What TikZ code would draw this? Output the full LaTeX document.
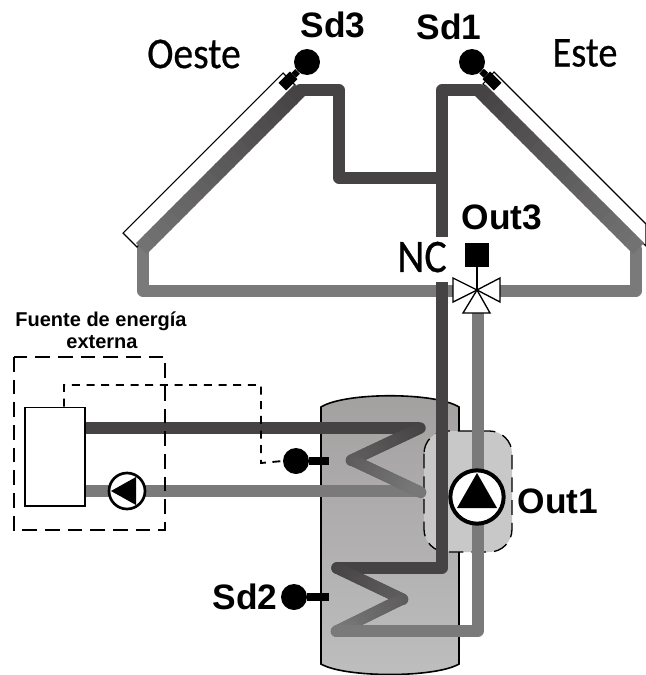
\documentclass[tikz,border=0pt]{standalone}
\usepackage{fontspec}
\setmainfont{Liberation Sans}
\newfontfamily\titlefont[FakeStretch=0.9,FakeBold=0.5]{Carlito}
\usetikzlibrary{calc}
\definecolor{pipedark}{RGB}{70,67,68}
\definecolor{pipelight}{RGB}{122,122,122}
\definecolor{tanktop}{RGB}{163,160,160}
\definecolor{tankbot}{RGB}{190,190,190}
\definecolor{pumpbox}{RGB}{200,200,200}
\newcommand{\gradpipe}[5]{
  \foreach \t in {0,5,...,95} {
    \pgfmathtruncatemacro{\p}{#4+(#5-#4)*\t/95}
    \pgfmathsetmacro{\q}{(\t+6)/100}
    \pgfmathsetmacro{\r}{\t/100}
    \draw[#1,pipedark!\p!pipelight] ($#2!\r!#3$) -- ($#2!\q!#3$);}}
\begin{document}
\begin{tikzpicture}[x=0.75pt,y=-0.75pt,
    pipe/.style={line width=8.6pt,line join=round,line cap=round},
    band/.style={line width=11.5pt},
    sensor/.style={circle,fill=black,inner sep=0pt,minimum size=19.5pt},
    sensortip/.style={rectangle,fill=black,inner sep=0pt,minimum width=12pt,minimum height=8pt},
    pump/.style={circle,draw=black,fill=white,inner sep=0pt},
    tag/.style={font=\bfseries\fontsize{26.5}{26.5}\selectfont,inner sep=0pt},
    place/.style={font=\titlefont\fontsize{#1}{#1}\selectfont,inner sep=0pt},
    longdash/.style={black,line width=1.4pt,dash pattern=on 11pt off 6pt},
    shortdash/.style={black,line width=1.4pt,dash pattern=on 6pt off 5pt}]
  \useasboundingbox (0,0) rectangle (646,675);

  \path[draw=black,line width=1.2pt,top color=tanktop,bottom color=tankbot]
    (321,407) .. controls (345,392) and (435,392) .. (459,407)
    -- (459,664) .. controls (435,678) and (345,678) .. (321,664) -- cycle;
  \draw[longdash,line width=1pt,fill=pumpbox,rounded corners=17pt] (424,431) rectangle (512,552);

  \draw[pipe,pipedark] (442,178) -- (339,178) -- (339,90) -- (300,90);
  \draw[pipe,pipedark] (442,282) -- (442,90) -- (480,90);
  \draw[pipe,pipelight] (143,248) -- (143,291) -- (460,291);
  \draw[pipe,pipelight] (636,249) -- (636,291) -- (495,291);
  \draw[black,fill=white,line width=0.8pt] (283,73) -- (295,85) -- (137,247) -- (123,233) -- cycle;
  \draw[black,fill=white,line width=0.8pt] (494,72) -- (483,84) -- (646,246) -- (646,224) -- cycle;
  \gradpipe{band}{(300,90)}{(143,247)}{100}{15}
  \gradpipe{band}{(480,90)}{(637,247)}{100}{15}

  \draw[pipe,pipedark] (442,282) -- (442,568) -- (337,568);
  \gradpipe{pipe}{(337,568)}{(402,599)}{100}{55}
  \gradpipe{pipe}{(402,599)}{(337,631)}{55}{5}
  \draw[pipe,pipelight] (337,631) -- (478,631) -- (478,310);

  \node[draw=black,fill=white,line width=1pt,minimum width=45pt,minimum height=74pt,inner sep=0pt] (boiler) at (55,456.5) {};
  \draw[pipe,line cap=butt,pipedark] (boiler.east |- 0,428) -- (420,428);
  \draw[pipe,line cap=butt,pipelight] (boiler.east |- 0,491) -- (420,491);
  \gradpipe{pipe}{(420,428)}{(352,460)}{100}{55}
  \gradpipe{pipe}{(352,460)}{(420,492)}{55}{5}

  \node[pump,line width=2pt,minimum size=27pt] (pumpext) at (127,491) {};
  \fill (pumpext.center) ++(-16,0) -- ++(25,-14) -- ++(0,28) -- cycle;
  \node[pump,line width=3pt,minimum size=40pt] (pumpout) at (477,497) {};
  \fill (pumpout.center) ++(0,-24) -- ++(20,35) -- ++(-40,0) -- cycle;

  \node[sensor] (sdthree) at (307,62) {};
  \node[sensortip,rotate=45] (sdthreetip) at (288,81) {};
  \draw[line width=5pt] (sdthree) -- (sdthreetip);
  \node[sensor] (sdone) at (472,62) {};
  \node[sensortip,rotate=-45] (sdonetip) at (492,81) {};
  \draw[line width=5pt] (sdone) -- (sdonetip);
  \node[sensor] (sdext) at (296,461) {};
  \coordinate (sdexttip) at (329,461);
  \draw[line width=6pt] (sdext) -- (sdexttip);
  \node[sensor] (sdtwo) at (294,597) {};
  \coordinate (sdtwotip) at (329,597);
  \draw[line width=6pt] (sdtwo) -- (sdtwotip);

  \coordinate (valve) at (477,290);
  \node[fill=black,inner sep=0pt,minimum size=18pt] (actuator) at (477,254.5) {};
  \draw[line width=1pt] (actuator) -- (valve);
  \draw[fill=white,line width=1pt] (valve) -- (453,278) -- (453,302) -- cycle;
  \draw[fill=white,line width=1pt] (valve) -- (500,278) -- (500,302) -- cycle;
  \draw[fill=white,line width=1pt] (valve) -- (490,313) -- (463,313) -- cycle;

  \draw[longdash] (14,357) rectangle (165,530);
  \draw[shortdash] (boiler.north -| 64,0) -- (64,385) -- (261,385) -- (261,463) -- (sdext.west);

  \node[fill=white,inner sep=0pt,minimum width=40pt,minimum height=34pt] (nc) at (421.5,259.5) {};
  \node[place=35] (nctext) at (422,257) {NC};
  \node[place=33] (oeste) at (194,54) {Oeste};
  \node[place=32] (este) at (585,53) {Este};
  \node[tag] (sdthreetext) at (333,25) {Sd3};
  \node[tag] (sdonetext) at (449,27) {Sd1};
  \node[tag] (outthree) at (502,217) {Out3};
  \node[tag] (outone) at (558,501) {Out1};
  \node[tag] (sdtwotext) at (245,597) {Sd2};
  \node[font=\bfseries\fontsize{15}{15}\selectfont,inner sep=0pt] (fuente) at (101,321) {Fuente de energía};
  \node[font=\bfseries\fontsize{15}{15}\selectfont,inner sep=0pt] (externa) at (102,342) {externa};
\end{tikzpicture}
\end{document}
